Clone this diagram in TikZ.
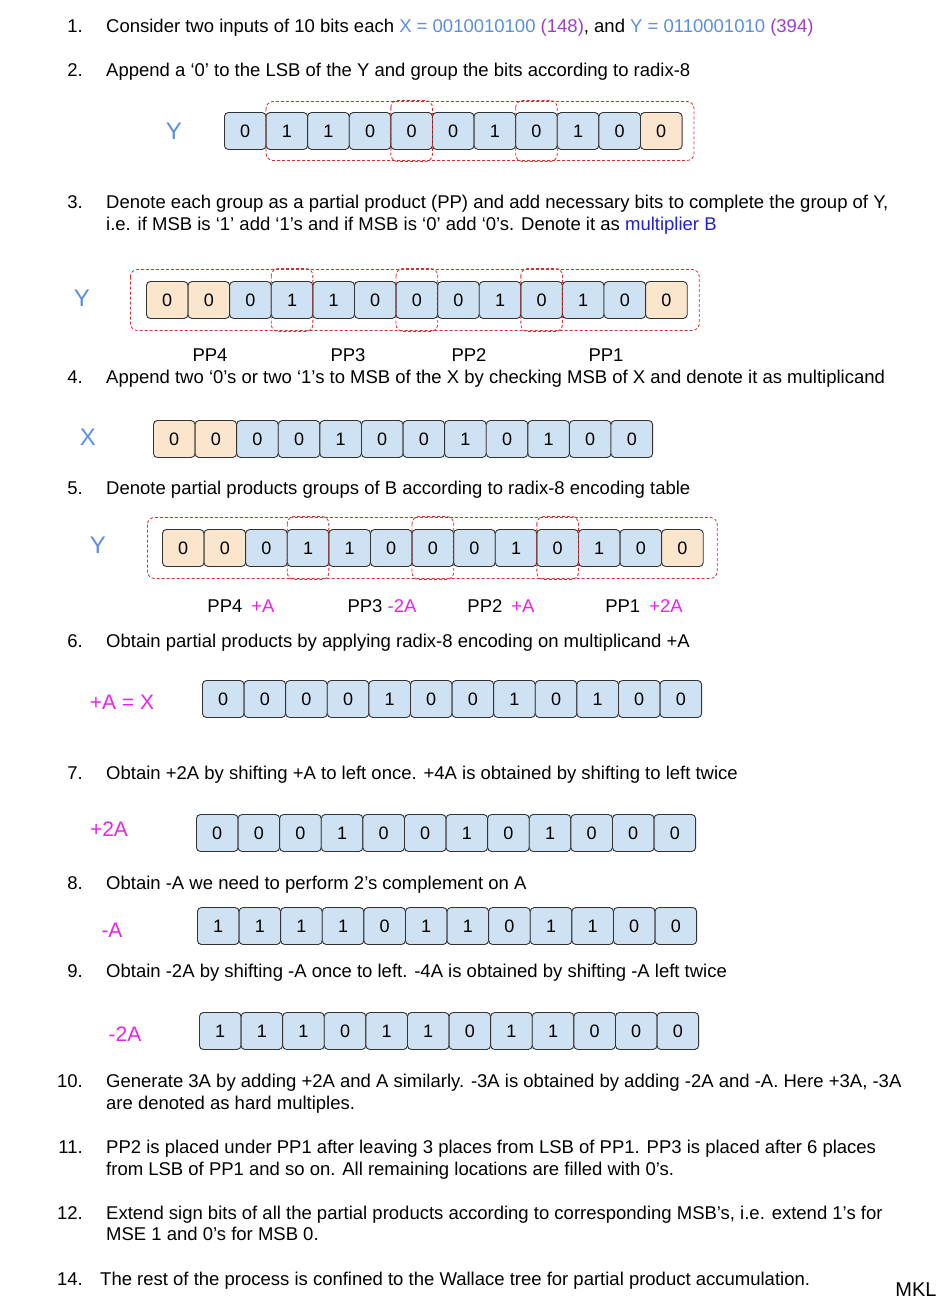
\documentclass[tikz,border=0pt]{standalone}
\usepackage{fontspec}
\setmainfont{Liberation Sans}
\usetikzlibrary{matrix}

\definecolor{bitblue}{HTML}{CFE2F3}
\definecolor{bitorange}{HTML}{FCE5CD}
\definecolor{inblue}{HTML}{5B8FDE}
\definecolor{decpurple}{HTML}{9A3FCB}
\definecolor{multblue}{HTML}{2020CC}
\definecolor{ppmagenta}{HTML}{E626E6}
\definecolor{groupred}{HTML}{D03030}

\tikzset{
  txt/.style={anchor=base west, inner sep=0pt, font=\fontsize{18.5}{22}\selectfont},
  num/.style={anchor=base east, inner sep=0pt, font=\fontsize{18.5}{22}\selectfont},
  rowlabel/.style={inner sep=0pt, font=\fontsize{21}{24}\selectfont},
  bit/.style={draw=black!80, fill=bitblue, rounded corners=4pt, line width=0.9pt,
    minimum width=41.6pt, minimum height=37pt, inner sep=0pt,
    font=\fontsize{18}{20}\selectfont},
  pad/.style={fill=bitorange},
  bits/.style={matrix of nodes, column sep=-0.9pt, inner sep=0pt, outer sep=0pt,
    anchor=west, nodes={bit}},
  groupbox/.style={draw=groupred, dashed, dash pattern=on 3pt off 2pt,
    line width=0.8pt, rounded corners=7pt},
  pplabel/.style={anchor=base, inner sep=0pt, font=\fontsize{18.5}{22}\selectfont}
}

\begin{document}
\begin{tikzpicture}[x=1pt,y=-1pt]
  \useasboundingbox (0,0) rectangle (946,1307);

  % step 1 and 2
  \node[num] (n1) at (83,32) {1.};
  \node[txt] (s1) at (106,32) {Consider two inputs of 10 bits each
    \textcolor{inblue}{X = 0010010100} \textcolor{decpurple}{(148)}, and
    \textcolor{inblue}{Y = 0110001010} \textcolor{decpurple}{(394)}};
  \node[num] (n2) at (83,76) {2.};
  \node[txt] (s2) at (106,76) {Append a ‘0’ to the LSB of the Y and group the bits according to radix-8};

  \node[rowlabel, text=inblue, font=\fontsize{24}{26}\selectfont] (ly2) at (174,131) {Y};
  \matrix (y2) at (224,131) [bits]
  { 0 & 1 & 1 & 0 & 0 & 0 & 1 & 0 & 1 & 0 & |[pad]| 0 \\ };
  \draw[groupbox] ([yshift=11pt]y2-1-2.north west) rectangle ([xshift=12pt,yshift=-11pt]y2-1-11.south east);
  \draw[groupbox] ([yshift=12pt]y2-1-5.north west) rectangle ([yshift=-12pt]y2-1-5.south east);
  \draw[groupbox] ([yshift=12pt]y2-1-8.north west) rectangle ([yshift=-12pt]y2-1-8.south east);

  % step 3
  \node[num] (n3) at (83,208) {3.};
  \node[txt] (s3a) at (106,208) {Denote each group as a partial product (PP) and add necessary bits to complete the group of Y,};
  \node[txt] (s3b) at (106,230) {i.e. if MSB is ‘1’ add ‘1’s and if MSB is ‘0’ add ‘0’s. Denote it as \textcolor{multblue}{multiplier B}};

  \node[rowlabel, text=inblue, font=\fontsize{24}{26}\selectfont] (ly3) at (82,298) {Y};
  \matrix (y3) at (146,300) [bits]
  { |[pad]| 0 & |[pad]| 0 & 0 & 1 & 1 & 0 & 0 & 0 & 1 & 0 & 1 & 0 & |[pad]| 0 \\ };
  \draw[groupbox] ([xshift=-16pt,yshift=12pt]y3-1-1.north west) rectangle ([xshift=12pt,yshift=-12pt]y3-1-13.south east);
  \foreach \c in {4,7,10}
    \draw[groupbox] ([yshift=13pt]y3-1-\c.north west) rectangle ([yshift=-13pt]y3-1-\c.south east);

  \node[pplabel] (pp4) at (210,361) {PP4};
  \node[pplabel] (pp3) at (348,361) {PP3};
  \node[pplabel] (pp2) at (469,361) {PP2};
  \node[pplabel] (pp1) at (606,361) {PP1};

  % step 4
  \node[num] (n4) at (83,383) {4.};
  \node[txt] (s4) at (106,383) {Append two ‘0’s or two ‘1’s to MSB of the X by checking MSB of X and denote it as multiplicand};

  \node[rowlabel, text=inblue, font=\fontsize{24}{26}\selectfont] (lx4) at (88,437) {X};
  \matrix (x4) at (153,439) [bits]
  { |[pad]| 0 & |[pad]| 0 & 0 & 0 & 1 & 0 & 0 & 1 & 0 & 1 & 0 & 0 \\ };

  % step 5
  \node[num] (n5) at (83,494) {5.};
  \node[txt] (s5) at (106,494) {Denote partial products groups of B according to radix-8 encoding table};

  \node[rowlabel, text=inblue, font=\fontsize{24}{26}\selectfont] (ly5) at (98,545) {Y};
  \matrix (y5) at (162,548) [bits]
  { |[pad]| 0 & |[pad]| 0 & 0 & 1 & 1 & 0 & 0 & 0 & 1 & 0 & 1 & 0 & |[pad]| 0 \\ };
  \draw[groupbox] ([xshift=-15pt,yshift=12pt]y5-1-1.north west) rectangle ([xshift=14pt,yshift=-12pt]y5-1-13.south east);
  \foreach \c in {4,7,10}
    \draw[groupbox] ([yshift=13pt]y5-1-\c.north west) rectangle ([yshift=-13pt]y5-1-\c.south east);

  \node[pplabel] (pp4e) at (241,612) {PP4\hspace{9pt}\textcolor{ppmagenta}{+A}};
  \node[pplabel] (pp3e) at (382,612) {PP3 \textcolor{ppmagenta}{-2A}};
  \node[pplabel] (pp2e) at (501,612) {PP2\hspace{9pt}\textcolor{ppmagenta}{+A}};
  \node[pplabel] (pp1e) at (644,612) {PP1\hspace{9pt}\textcolor{ppmagenta}{+2A}};

  % step 6 to 9
  \node[num] (n6) at (83,647) {6.};
  \node[txt] (s6) at (106,647) {Obtain partial products by applying radix-8 encoding on multiplicand +A};
  \node[rowlabel, text=ppmagenta] (la6) at (122,702) {+A = X};
  \matrix (a6) at (202,699) [bits]
  { 0 & 0 & 0 & 0 & 1 & 0 & 0 & 1 & 0 & 1 & 0 & 0 \\ };

  \node[num] (n7) at (83,779) {7.};
  \node[txt] (s7) at (106,779) {Obtain +2A by shifting +A to left once. +4A is obtained by shifting to left twice};
  \node[rowlabel, text=ppmagenta] (la7) at (109,829) {+2A};
  \matrix (a7) at (196,833) [bits]
  { 0 & 0 & 0 & 1 & 0 & 0 & 1 & 0 & 1 & 0 & 0 & 0 \\ };

  \node[num] (n8) at (83,889) {8.};
  \node[txt] (s8) at (106,889) {Obtain -A we need to perform 2’s complement on A};
  \node[rowlabel, text=ppmagenta] (la8) at (112,930) {-A};
  \matrix (a8) at (197,926) [bits]
  { 1 & 1 & 1 & 1 & 0 & 1 & 1 & 0 & 1 & 1 & 0 & 0 \\ };

  \node[num] (n9) at (83,977) {9.};
  \node[txt] (s9) at (106,977) {Obtain -2A by shifting -A once to left. -4A is obtained by shifting -A left twice};
  \node[rowlabel, text=ppmagenta] (la9) at (125,1034) {-2A};
  \matrix (a9) at (199,1031) [bits]
  { 1 & 1 & 1 & 0 & 1 & 1 & 0 & 1 & 1 & 0 & 0 & 0 \\ };

  % step 10 to 14
  \node[num] (n10) at (83,1087) {10.};
  \node[txt] (s10a) at (106,1087) {Generate 3A by adding +2A and A similarly. -3A is obtained by adding -2A and -A. Here +3A, -3A};
  \node[txt] (s10b) at (106,1109) {are denoted as hard multiples.};
  \node[num] (n11) at (83,1153) {11.};
  \node[txt] (s11a) at (106,1153) {PP2 is placed under PP1 after leaving 3 places from LSB of PP1. PP3 is placed after 6 places};
  \node[txt] (s11b) at (106,1175) {from LSB of PP1 and so on. All remaining locations are filled with 0’s.};
  \node[num] (n12) at (83,1219) {12.};
  \node[txt] (s12a) at (106,1219) {Extend sign bits of all the partial products according to corresponding MSB’s, i.e. extend 1’s for};
  \node[txt] (s12b) at (106,1240) {MSE 1 and 0’s for MSB 0.};
  \node[num] (n14) at (83,1285) {14.};
  \node[txt] (s14) at (100,1285) {The rest of the process is confined to the Wallace tree for partial product accumulation.};

  \node[rowlabel, font=\fontsize{20}{22}\selectfont] (mkl) at (916,1290) {MKL};
\end{tikzpicture}
\end{document}
